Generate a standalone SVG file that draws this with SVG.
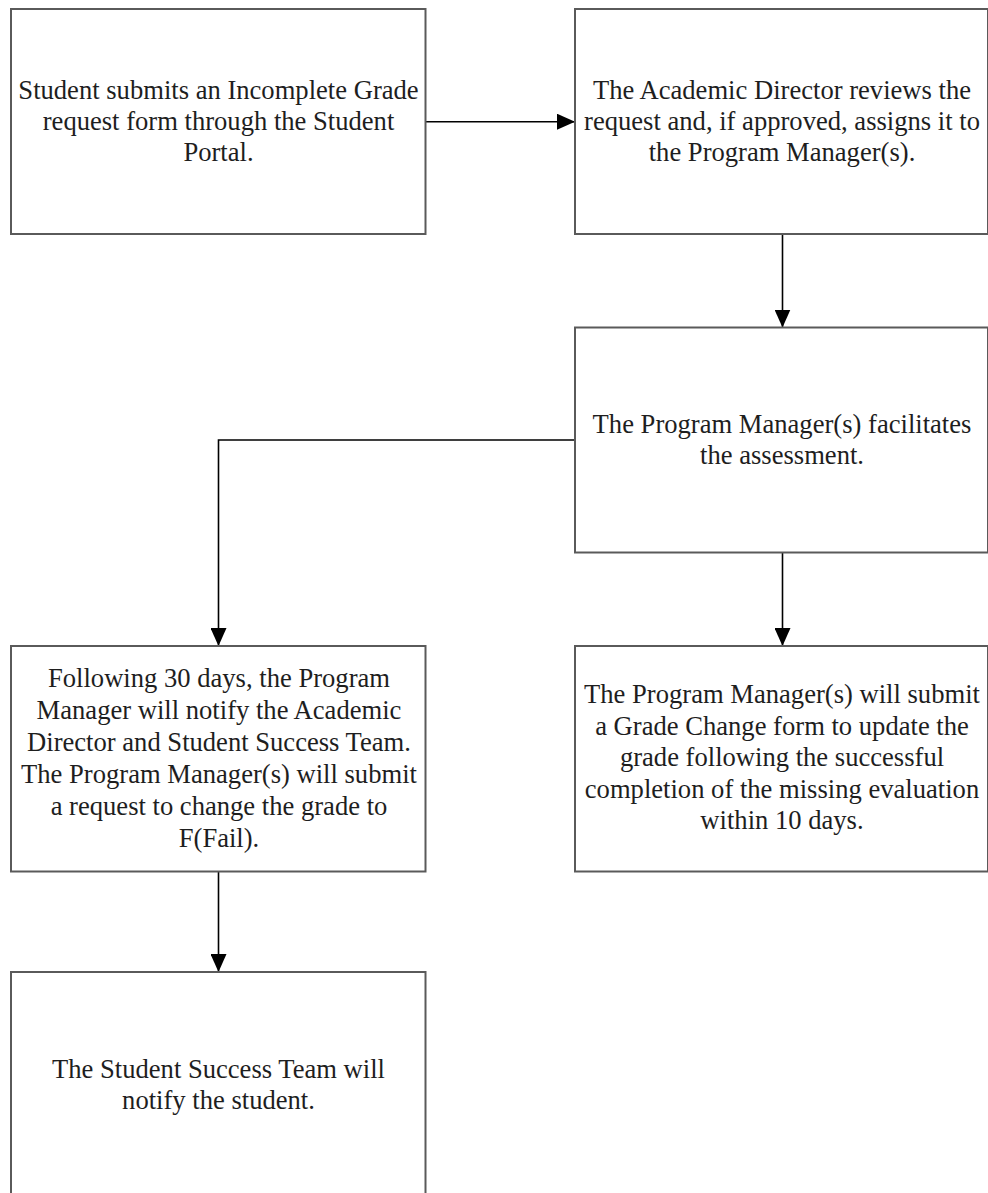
<svg xmlns="http://www.w3.org/2000/svg" width="988" height="1193" viewBox="0 0 988 1193">
<style>
.box{fill:#ffffff;stroke:#5a5a5a;stroke-width:2}
.conn{fill:none;stroke:#000;stroke-width:1.6}
.lbl{font-family:"Liberation Serif","Times New Roman",serif;font-size:26.6px;fill:#1e1e1e;text-anchor:middle}
</style>
<defs>
<marker id="arr" markerUnits="userSpaceOnUse" markerWidth="18" markerHeight="16" viewBox="0 0 18 16" refX="18" refY="8" orient="auto">
<path d="M0,0 L18,8 L0,16 z" fill="#000"/>
</marker>
</defs>
<rect width="988" height="1193" fill="#ffffff"/>
<g id="connectors">
<path class="conn" d="M425.5,121.7 H575" marker-end="url(#arr)"/>
<path class="conn" d="M782.5,234 V327.5" marker-end="url(#arr)"/>
<path class="conn" d="M575,440 H218.5 V646" marker-end="url(#arr)"/>
<path class="conn" d="M782.5,552.5 V646" marker-end="url(#arr)"/>
<path class="conn" d="M218.5,871.5 V972" marker-end="url(#arr)"/>
</g>
<g id="n1">
<rect class="box" x="11" y="9" width="414.5" height="225"/>
<text class="lbl" font-family="Liberation Serif"><tspan x="218.5" y="99">Student submits an Incomplete Grade</tspan><tspan x="218.5" y="130">request form through the Student</tspan><tspan x="218.5" y="161">Portal.</tspan></text>
</g>
<g id="n2">
<rect class="box" x="575" y="9" width="413" height="225"/>
<text class="lbl" font-family="Liberation Serif"><tspan x="782" y="99">The Academic Director reviews the</tspan><tspan x="782" y="130">request and, if approved, assigns it to</tspan><tspan x="782" y="161">the Program Manager(s).</tspan></text>
</g>
<g id="n3">
<rect class="box" x="575" y="327.5" width="413" height="225"/>
<text class="lbl" font-family="Liberation Serif"><tspan x="782" y="433">The Program Manager(s) facilitates</tspan><tspan x="782" y="464">the assessment.</tspan></text>
</g>
<g id="n4">
<rect class="box" x="11" y="646" width="414.5" height="225.5"/>
<text class="lbl" font-family="Liberation Serif"><tspan x="219" y="687">Following 30 days, the Program</tspan><tspan x="219" y="719">Manager will notify the Academic</tspan><tspan x="219" y="751">Director and Student Success Team.</tspan><tspan x="219" y="783">The Program Manager(s) will submit</tspan><tspan x="219" y="814.5">a request to change the grade to</tspan><tspan x="219" y="846.5">F(Fail).</tspan></text>
</g>
<g id="n5">
<rect class="box" x="575" y="646" width="413" height="225.5"/>
<text class="lbl" font-family="Liberation Serif"><tspan x="782" y="703">The Program Manager(s) will submit</tspan><tspan x="782" y="734.5">a Grade Change form to update the</tspan><tspan x="782" y="766">grade following the successful</tspan><tspan x="782" y="797.5">completion of the missing evaluation</tspan><tspan x="782" y="829">within 10 days.</tspan></text>
</g>
<g id="n6">
<rect class="box" x="11" y="972" width="414.5" height="226"/>
<text class="lbl" font-family="Liberation Serif"><tspan x="218.5" y="1078">The Student Success Team will</tspan><tspan x="218.5" y="1109">notify the student.</tspan></text>
</g>
</svg>
